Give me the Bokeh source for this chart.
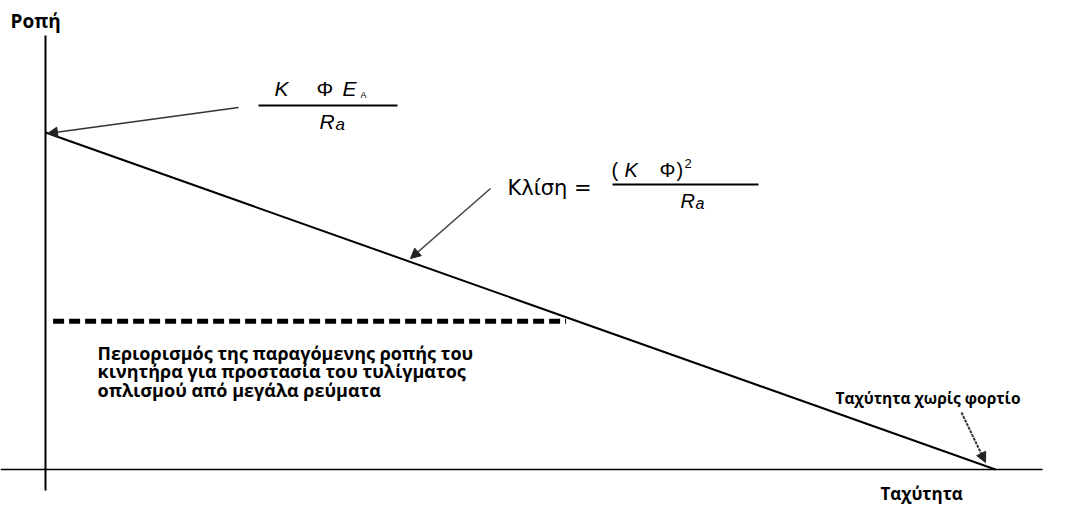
from bokeh.plotting import figure
from bokeh.models import Range1d, Arrow, NormalHead
from bokeh.core.properties import value
from bokeh.embed import file_html
from bokeh.resources import INLINE

# ---- data (speed in % of no-load speed, torque in % of starting torque) ----
speed = [0, 100]
torque = [100, 0]
limit_torque = [44, 44]
limit_speed = [0.8, 54.8]
axis_title_y = "Ροπή"
axis_title_x = "Ταχύτητα"
label_noload = "Ταχύτητα χωρίς φορτίο"
label_slope = "Κλίση ="
label_limit = ["Περιορισμός της παραγόμενης ροπής του",
               "κινητήρα για προστασία του τυλίγματος",
               "οπλισμού από μεγάλα ρεύματα"]

# mapping of the drawing: page pixel -> data units
X0, XS = 45.0, 9.5      # px of speed 0, px per speed unit
Y0, YS = 469.0, 3.37    # px of torque 0, px per torque unit
def dx(px):
    return (px - X0) / XS
def dy(py):
    return (Y0 - py) / YS

W, H = 1081, 507
p = figure(width=W, height=H, output_backend="svg", toolbar_location=None,
           x_range=Range1d(dx(0), dx(W)), y_range=Range1d(dy(H), dy(0)),
           min_border=0, outline_line_color=None)
p.xaxis.visible = False
p.yaxis.visible = False
p.xgrid.visible = False
p.ygrid.visible = False

# axes lines
p.segment(x0=[dx(45)], y0=[dy(35)], x1=[dx(45)], y1=[dy(490)], line_color="black", line_width=2)
p.segment(x0=[dx(0)], y0=[0], x1=[dx(1042)], y1=[0], line_color="black", line_width=1.5)

# torque-speed characteristic
p.line(speed, torque, line_color="black", line_width=2)

# limit line
p.line(limit_speed, limit_torque, line_color="black", line_width=5, line_dash="11 5")

def txt(x, y, s, size, style="normal", font="Open Sans", align="left", color="black"):
    p.text(x=[x], y=[y], text=[s], text_font=value(font), text_font_size=value(size),
           text_font_style=value(style), text_align=value(align), text_baseline=value("middle"),
           text_color=value(color))

txt(dx(10), dy(20), axis_title_y, "19px", "bold")
txt(dx(880), dy(493), axis_title_x, "17px", "bold")
txt(dx(835), dy(397), label_noload, "15.5px", "bold")
for i, s in enumerate(label_limit):
    txt(dx(97), dy(352 + 18.5 * i), s, "18px", "bold")

# formula 1: K Φ E_A / R_a
MF = "Liberation Sans"
txt(dx(274), dy(88), "K", "21px", "italic", MF)
txt(dx(316), dy(88), "Φ", "21px", "normal", MF)
txt(dx(342), dy(88), "E", "21px", "italic", MF)
txt(dx(360), dy(94), "A", "9px", "normal", MF)
p.segment(x0=[dx(258)], y0=[dy(105)], x1=[dx(397)], y1=[dy(105)], line_color="black", line_width=2)
txt(dx(319), dy(121), "R", "21px", "italic", MF)
txt(dx(335), dy(124), "a", "17px", "italic", MF)

# formula 2: Κλίση = (K Φ)^2 / R_a
txt(dx(507), dy(187), label_slope, "21px", "normal", "DejaVu Sans")
txt(dx(611), dy(169), "(", "20px", "normal", MF)
txt(dx(624), dy(169), "K", "20px", "italic", MF)
txt(dx(659), dy(169), "Φ", "20px", "normal", MF)
txt(dx(676), dy(169), ")", "20px", "normal", MF)
txt(dx(684), dy(163), "2", "13px", "normal", MF)
p.segment(x0=[dx(612)], y0=[dy(184)], x1=[dx(758)], y1=[dy(184)], line_color="black", line_width=2)
txt(dx(680), dy(200), "R", "20px", "italic", MF)
txt(dx(695), dy(203), "a", "16px", "italic", MF)

# arrows
p.add_layout(Arrow(end=NormalHead(size=10, fill_color="#222222", line_color="#222222"),
                   x_start=dx(238), y_start=dy(107), x_end=dx(47), y_end=dy(133),
                   line_color="#333333", line_width=1.5))
p.add_layout(Arrow(end=NormalHead(size=10, fill_color="#222222", line_color="#222222"),
                   x_start=dx(490), y_start=dy(188), x_end=dx(410), y_end=dy(258),
                   line_color="#444444", line_width=1.5))
p.add_layout(Arrow(end=NormalHead(size=10, fill_color="#222222", line_color="#222222"),
                   x_start=dx(961), y_start=dy(412), x_end=dx(985), y_end=dy(462),
                   line_color="#333333", line_width=2, line_dash="3 1"))

open("out.html", "w").write(file_html(p, INLINE))
